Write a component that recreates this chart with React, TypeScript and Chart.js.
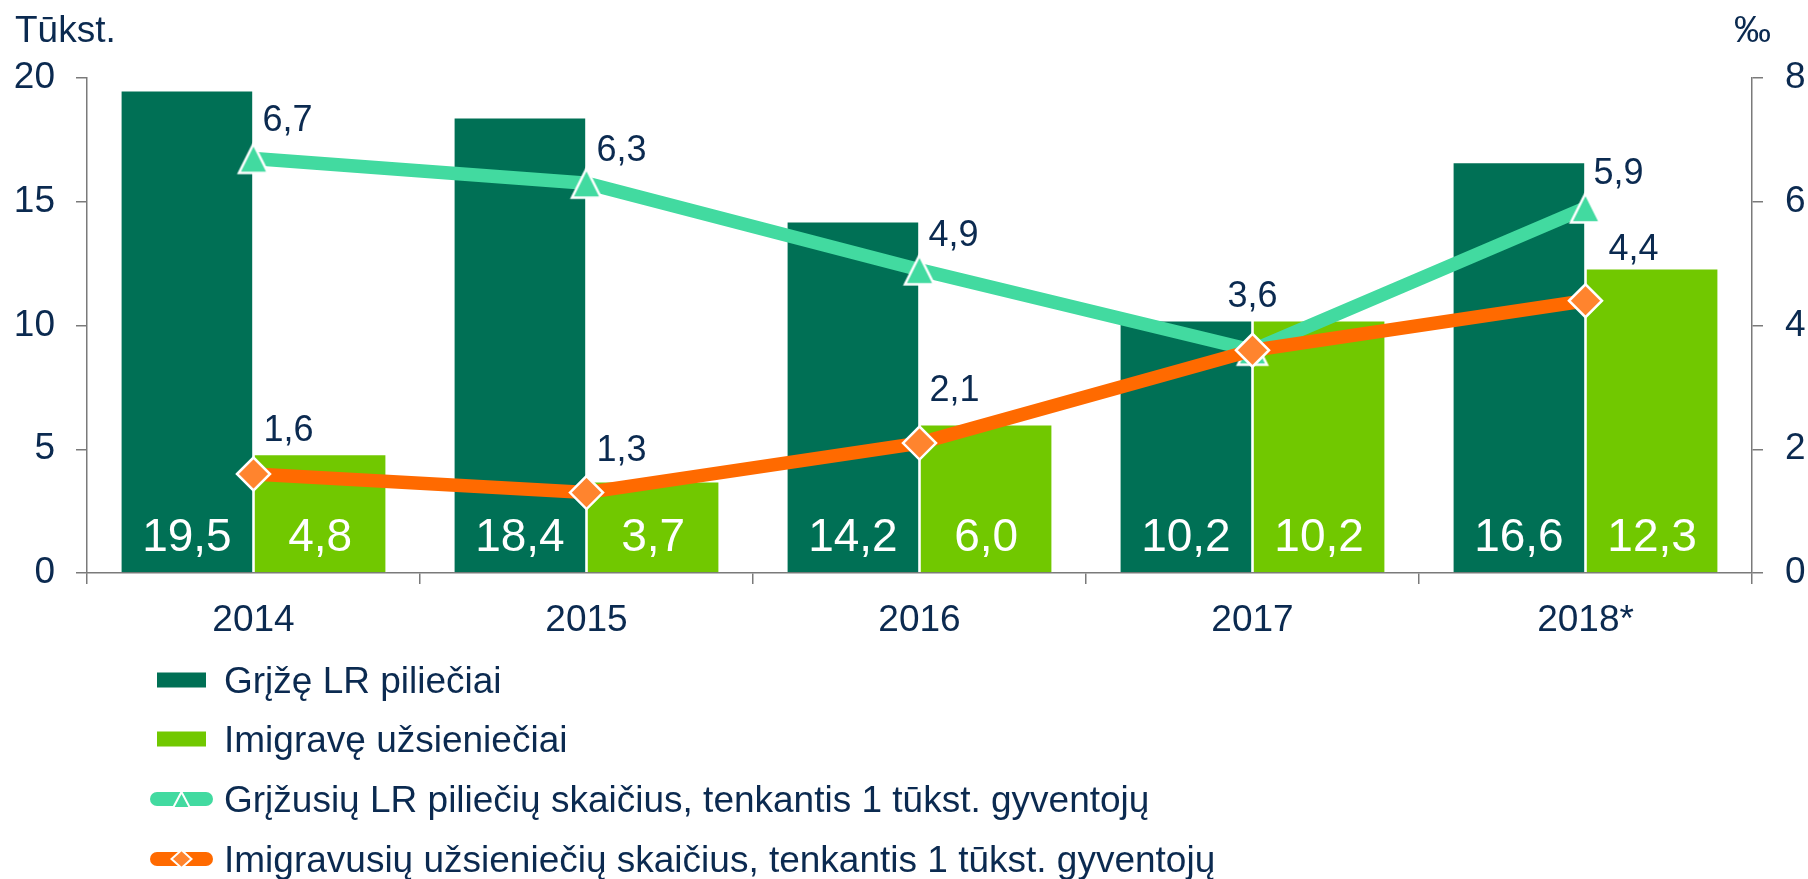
import React, { useEffect, useRef } from 'react';
import { Chart, registerables } from 'chart.js';

Chart.register(...registerables);

// ---------- data ----------
const categories = ['2014', '2015', '2016', '2017', '2018*'];
const returnedCitizens = [19.5, 18.4, 14.2, 10.2, 16.6];
const immigratedForeigners = [4.8, 3.7, 6.0, 10.2, 12.3];
const returnedPer1000 = [6.7, 6.3, 4.9, 3.6, 5.9];
const immigratedPer1000 = [1.6, 1.3, 2.1, 3.6, 4.4];
const seriesLabels = [
  'Grįžę LR piliečiai',
  'Imigravę užsieniečiai',
  'Grįžusių LR piliečių skaičius, tenkantis 1 tūkst. gyventojų',
  'Imigravusių užsieniečių skaičius, tenkantis 1 tūkst. gyventojų',
];
const leftAxisTitle = 'Tūkst.';
const rightAxisTitle = '‰';
const leftAxisRange = [0, 20, 5];
const rightAxisRange = [0, 8, 2];

// ---------- styles ----------
const FONT = '"Liberation Sans", Arial, Helvetica, sans-serif';
const TEXT = '#0B2A50';
const AXIS = '#7A7A7A';
const DARK_GREEN = '#007055';
const LIGHT_GREEN = '#71C800';
const TEAL = '#42DAA0';
const ORANGE = '#FF6A00';
const ORANGE_MARK = '#FF842E';

const W = 1808;
const H = 879;

const fmt = (v: number) => v.toFixed(1).replace('.', ',');

function makeTriangle(w: number, h: number, fill: string, stroke: string, lw: number) {
  const pad = lw + 2;
  const c = document.createElement('canvas');
  c.width = Math.ceil(w + pad * 2);
  c.height = Math.ceil(h + pad * 2);
  const g = c.getContext('2d')!;
  const cx = c.width / 2;
  const top = (c.height - h) / 2;
  g.beginPath();
  g.moveTo(cx, top);
  g.lineTo(cx + w / 2, top + h);
  g.lineTo(cx - w / 2, top + h);
  g.closePath();
  g.fillStyle = fill;
  g.fill();
  g.lineWidth = lw;
  g.lineJoin = 'miter';
  g.miterLimit = 3;
  g.strokeStyle = stroke;
  g.stroke();
  return c;
}

// label offsets relative to line points: [dx, dy] (dx null => centered, entry null => no label)
const LINE_LABEL_OFFSETS: Record<number, (Array<[number | null, number] | null>)> = {
  2: [[9, -27], [10, -22], [9, -24], null, [8, -24]],
  3: [[10, -33], [10, -32], [10, -42], [null, -43], [23, -41]],
};

const valueLabelsPlugin = {
  id: 'valueLabels',
  afterDatasetsDraw(chart: any) {
    const ctx = chart.ctx as CanvasRenderingContext2D;
    ctx.save();
    // bar labels
    ctx.font = `46px ${FONT}`;
    ctx.fillStyle = '#FFFFFF';
    ctx.textAlign = 'center';
    ctx.textBaseline = 'alphabetic';
    [0, 1].forEach((di) => {
      const meta = chart.getDatasetMeta(di);
      const ds = chart.data.datasets[di];
      meta.data.forEach((el: any, i: number) => {
        ctx.fillText(fmt(ds.data[i]), el.x, el.base - 21);
      });
    });
    // line labels
    ctx.font = `36px ${FONT}`;
    ctx.fillStyle = TEXT;
    [2, 3].forEach((di) => {
      const meta = chart.getDatasetMeta(di);
      const ds = chart.data.datasets[di];
      meta.data.forEach((el: any, i: number) => {
        const off = LINE_LABEL_OFFSETS[di][i];
        if (!off) return;
        const [dx, dy] = off;
        if (dx === null) {
          ctx.textAlign = 'center';
          ctx.fillText(fmt(ds.data[i]), el.x, el.y + dy);
        } else {
          ctx.textAlign = 'left';
          ctx.fillText(fmt(ds.data[i]), el.x + dx, el.y + dy);
        }
      });
    });
    ctx.restore();
  },
};

const legendPlugin = {
  id: 'customLegendTitles',
  afterDraw(chart: any) {
    const ctx = chart.ctx as CanvasRenderingContext2D;
    const area = chart.chartArea;
    ctx.save();
    // axis titles
    ctx.fillStyle = TEXT;
    ctx.font = `37px ${FONT}`;
    ctx.textBaseline = 'alphabetic';
    ctx.textAlign = 'left';
    ctx.fillText(leftAxisTitle, 15, 42);
    ctx.fillText(rightAxisTitle, area.right - 18, 42);

    // legend
    const rowBase = [693, 752, 812, 872];
    const boxX = 157;
    const textX = 224;
    ctx.font = `37px ${FONT}`;
    chart.data.datasets.forEach((ds: any, i: number) => {
      const base = rowBase[i];
      const cy = base - 13;
      if (ds.type === 'bar') {
        ctx.fillStyle = ds.backgroundColor;
        ctx.fillRect(boxX, cy - 7.5, 49, 15);
      } else {
        ctx.strokeStyle = ds.borderColor;
        ctx.lineWidth = 14;
        ctx.lineCap = 'round';
        ctx.beginPath();
        ctx.moveTo(boxX, cy);
        ctx.lineTo(boxX + 49, cy);
        ctx.stroke();
        const mx = boxX + 24.5;
        if (i === 2) {
          const tri = makeTriangle(17, 16, TEAL, '#FFFFFF', 2);
          ctx.drawImage(tri, mx - tri.width / 2, cy - tri.height / 2 + 1);
        } else {
          ctx.beginPath();
          ctx.moveTo(mx - 10, cy);
          ctx.lineTo(mx, cy - 9);
          ctx.lineTo(mx + 10, cy);
          ctx.lineTo(mx, cy + 9);
          ctx.closePath();
          ctx.fillStyle = ORANGE_MARK;
          ctx.fill();
          ctx.lineWidth = 2;
          ctx.lineJoin = 'miter';
          ctx.strokeStyle = '#FFFFFF';
          ctx.stroke();
        }
      }
      ctx.fillStyle = TEXT;
      ctx.textAlign = 'left';
      ctx.fillText(seriesLabels[i], textX, base);
    });
    ctx.restore();
  },
};

export default function App() {
  const ref = useRef<HTMLCanvasElement | null>(null);

  useEffect(() => {
    if (!ref.current) return;
    const triangle = makeTriangle(29, 29, TEAL, '#FFFFFF', 2.5);
    const barBorder = { top: 1, left: 1.3, right: 1.3, bottom: 0 };
    const chart = new Chart(ref.current, {
      type: 'bar',
      data: {
        labels: categories,
        datasets: [
          {
            type: 'bar',
            label: seriesLabels[0],
            data: returnedCitizens,
            backgroundColor: DARK_GREEN,
            borderColor: '#FFFFFF',
            borderWidth: barBorder,
            borderSkipped: 'bottom',
            yAxisID: 'y',
            categoryPercentage: 0.8,
            barPercentage: 1.0,
            order: 3,
          },
          {
            type: 'bar',
            label: seriesLabels[1],
            data: immigratedForeigners,
            backgroundColor: LIGHT_GREEN,
            borderColor: '#FFFFFF',
            borderWidth: barBorder,
            borderSkipped: 'bottom',
            yAxisID: 'y',
            categoryPercentage: 0.8,
            barPercentage: 1.0,
            order: 3,
          },
          {
            type: 'line',
            label: seriesLabels[2],
            data: returnedPer1000,
            borderColor: TEAL,
            backgroundColor: TEAL,
            borderWidth: 13.5,
            pointStyle: triangle,
            pointRadius: 16,
            yAxisID: 'y1',
            order: 1,
          },
          {
            type: 'line',
            label: seriesLabels[3],
            data: immigratedPer1000,
            borderColor: ORANGE,
            backgroundColor: ORANGE_MARK,
            borderWidth: 13.5,
            pointStyle: 'rectRot',
            pointRadius: 16.5,
            pointBackgroundColor: ORANGE_MARK,
            pointBorderColor: '#FFFFFF',
            pointBorderWidth: 2.5,
            yAxisID: 'y1',
            order: 0,
          },
        ] as any,
      },
      options: {
        animation: false,
        responsive: false,
        devicePixelRatio: 1,
        layout: { padding: { top: 78, left: 0, right: 0, bottom: 0 } },
        plugins: {
          legend: { display: false },
          tooltip: { enabled: false },
          title: { display: false },
        },
        scales: {
          x: {
            offset: true,
            grid: {
              display: true,
              drawOnChartArea: false,
              drawTicks: true,
              tickLength: 11,
              color: AXIS,
              lineWidth: 1.5,
              offset: true,
            },
            border: { display: true, color: AXIS, width: 1.5 },
            ticks: { color: TEXT, font: { size: 37, family: FONT }, padding: 15 },
            afterFit(scale: any) {
              scale.height = H - 573;
            },
          },
          y: {
            position: 'left',
            min: leftAxisRange[0],
            max: leftAxisRange[1],
            ticks: { stepSize: leftAxisRange[2], color: TEXT, font: { size: 37, family: FONT }, padding: 21 },
            grid: { drawOnChartArea: false, drawTicks: true, tickLength: 11, color: AXIS, lineWidth: 1.5 },
            border: { display: true, color: AXIS, width: 1.5 },
            afterFit(scale: any) {
              scale.width = 87;
            },
          },
          y1: {
            position: 'right',
            min: rightAxisRange[0],
            max: rightAxisRange[1],
            ticks: { stepSize: rightAxisRange[2], color: TEXT, font: { size: 37, family: FONT }, padding: 22 },
            grid: { drawOnChartArea: false, drawTicks: true, tickLength: 11, color: AXIS, lineWidth: 1.5 },
            border: { display: true, color: AXIS, width: 1.5 },
            afterFit(scale: any) {
              scale.width = W - 1752;
            },
          },
        },
      } as any,
      plugins: [valueLabelsPlugin, legendPlugin],
    });
    return () => chart.destroy();
  }, []);

  return (
    <div style={{ position: 'absolute', left: 0, top: 0, width: W, height: H, background: '#FFFFFF' }}>
      <canvas ref={ref} width={W} height={H} style={{ display: 'block', width: W, height: H }} />
    </div>
  );
}
